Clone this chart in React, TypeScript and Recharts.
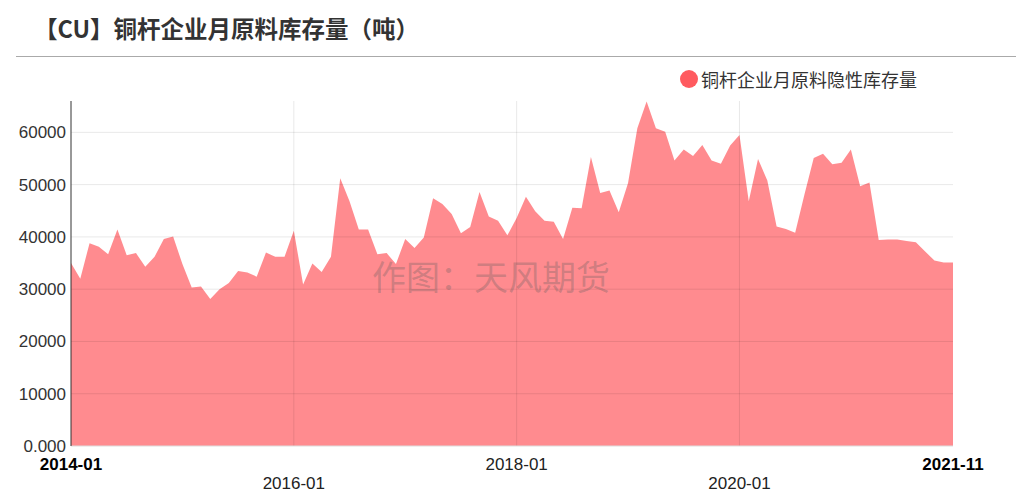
import { AreaChart, Area, XAxis, YAxis, ReferenceLine } from 'recharts';

// monthly, 2014-01 .. 2021-12 (96 points)
const months: string[] = [];
for (let y = 2014; y <= 2021; y++) {
  for (let m = 1; m <= 12; m++) months.push(`${y}-${String(m).padStart(2, '0')}`);
}

const inventory = [
  35000, 32000, 38800, 38100, 36700, 41400, 36500, 36900, 34300, 36200, 39600, 40100,
  34800, 30300, 30500, 28100, 30000, 31200, 33500, 33200, 32400, 37000, 36200, 36200,
  41200, 30900, 34900, 33300, 36200, 51200, 46800, 41400, 41400, 36700, 36900, 34800,
  39600, 37900, 39900, 47400, 46300, 44400, 40700, 41900, 48600, 43900, 43100, 40300,
  43600, 47700, 44900, 43100, 42900, 39600, 45600, 45500, 55300, 48400, 48900, 44700,
  50300, 60800, 65900, 60800, 60100, 54600, 56700, 55500, 57600, 54600, 54000, 57500,
  59500, 46800, 54900, 50800, 42000, 41500, 40800, 48100, 55100, 55900, 53900, 54200,
  56700, 49700, 50400, 39400, 39500, 39500, 39200, 39000, 37200, 35500, 35100, 35100,
];

const xTicks = ['2014-01', '2016-01', '2018-01', '2020-01', '2021-12'];
const xTickLabels = ['2014-01', '2016-01', '2018-01', '2020-01', '2021-11'];
const yTicks = [0, 10000, 20000, 30000, 40000, 50000, 60000];

const seriesName = '铜杆企业月原料隐性库存量';
const title = '【CU】铜杆企业月原料库存量（吨）';
const watermark = '作图：天风期货';

const data = months.map((month, i) => ({ month, value: inventory[i] }));

const latin = '"Liberation Sans", Arial, sans-serif';
const cjk = '"Noto Sans CJK SC", "Noto Sans", sans-serif';
const gridStroke = 'rgba(0,0,0,0.09)';

function MonthTick({ x, y, payload, index }: any) {
  const edge = index === 0 || index === xTicks.length - 1;
  const lower = index === 1 || index === 3;
  return (
    <text
      x={x}
      y={y + (lower ? 41 : 22)}
      textAnchor="middle"
      fontFamily={latin}
      fontSize={17}
      fontWeight={edge ? 'bold' : 'normal'}
      fill={edge ? '#000' : '#222'}
    >
      {xTickLabels[xTicks.indexOf(payload.value)]}
    </text>
  );
}

export default function App() {
  return (
    <div style={{ position: 'absolute', left: 0, top: 0, width: 1020, height: 495, background: '#fff' }}>
      <div
        style={{
          position: 'absolute', left: 34, top: 14, fontFamily: cjk, fontSize: 23.5,
          fontWeight: 'bold', color: '#333', lineHeight: '28px', whiteSpace: 'nowrap',
        }}
      >
        {title}
      </div>
      <div style={{ position: 'absolute', left: 16, top: 56, width: 1000, height: 1, background: '#aaa' }} />

      <AreaChart width={1020} height={495} data={data} margin={{ top: 101, right: 67, bottom: 0, left: 0 }}>
        <XAxis
          dataKey="month"
          ticks={xTicks}
          interval={0}
          tick={<MonthTick />}
          tickLine={false}
          tickSize={0}
          axisLine={{ stroke: '#ddd' }}
          height={49}
        />
        <YAxis
          width={71}
          domain={[0, 66000]}
          ticks={yTicks}
          allowDataOverflow
          tickLine={false}
          tickSize={0}
          tickMargin={5}
          axisLine={{ stroke: '#333' }}
          tick={{ fill: '#333', fontSize: 17, fontFamily: latin }}
          tickFormatter={(v: number) => (v === 0 ? '0.000' : String(v))}
        />
        <Area
          type="linear"
          dataKey="value"
          name={seriesName}
          stroke="none"
          fill="#ff5a5f"
          fillOpacity={0.7}
          isAnimationActive={false}
          dot={false}
          activeDot={false}
        />
        {/* grid, drawn as faint translucent lines */}
        {yTicks.slice(1).map((t) => (
          <ReferenceLine key={t} y={t} stroke={gridStroke} />
        ))}
        {xTicks.slice(1, -1).map((t) => (
          <ReferenceLine key={t} x={t} stroke={gridStroke} />
        ))}
      </AreaChart>

      {/* legend */}
      <div style={{ position: 'absolute', left: 680, top: 68, display: 'flex', alignItems: 'center', whiteSpace: 'nowrap' }}>
        <span style={{ width: 18, height: 18, borderRadius: 9, background: '#ff5a5f', display: 'inline-block' }} />
        <span style={{ marginLeft: 3, fontFamily: cjk, fontSize: 18, color: '#333', lineHeight: '22px' }}>{seriesName}</span>
      </div>

      {/* watermark */}
      <div
        style={{
          position: 'absolute', left: 372, top: 256, fontFamily: cjk, fontSize: 34,
          color: 'rgba(90,90,90,0.3)', lineHeight: '40px', whiteSpace: 'nowrap', pointerEvents: 'none',
        }}
      >
        {watermark}
      </div>
    </div>
  );
}
